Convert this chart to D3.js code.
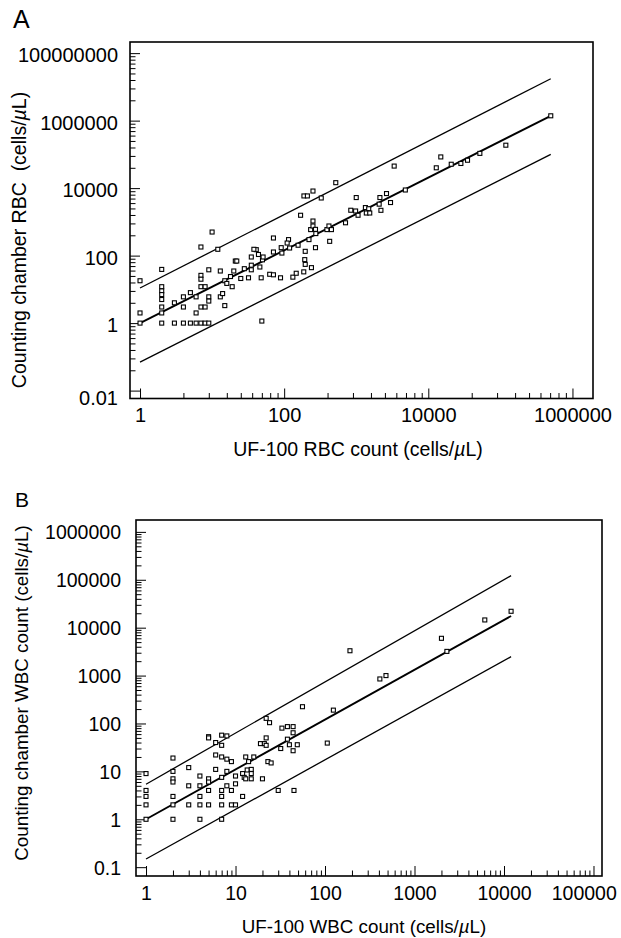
<!DOCTYPE html>
<html>
<head>
<meta charset="utf-8">
<script src="https://cdn.jsdelivr.net/npm/d3@7"></script>
<style>
  body { margin: 0; background: #fff; }
  svg text { font-family: "Liberation Sans", Arial, Helvetica, sans-serif; fill: #000; }
</style>
</head>
<body>
<svg id="chart" width="621" height="938"></svg>
<script>
// ---- Panel A: RBC (UF-100 vs counting chamber), cells/uL ----
const rbcUF = [
  1, 1, 1,
  2, 2, 2, 2, 2, 2, 2, 2,
  3, 3, 4, 4, 4, 5, 5,
  6, 6, 6, 7, 8, 9,
  7, 7, 7, 7, 8, 7, 8,
  9, 9, 9,
  10, 12, 13, 13, 14, 15, 16, 15,
  19, 18, 20, 21, 22, 25, 28, 32,
  41, 50, 49, 38,
  35, 44, 51, 35, 35, 46, 48, 63, 71, 71, 71, 91, 93, 89,
  115, 110, 119, 132, 147, 156, 187, 193, 196, 196, 169, 188, 210, 251, 221, 239,
  233, 251, 251, 272, 275, 272, 327, 392, 418, 453, 428, 520, 710,
  840, 980, 1000, 1060, 1340, 1490, 1380, 1540, 2080, 2130, 2200, 2630, 2990, 3360, 4800,
  12900, 14900, 20800, 28300, 35000, 51900, 119000, 500000
];
const rbcChamber = [
  18, 2, 1,
  39, 12, 9, 7, 5, 3, 2, 1,
  1, 4, 1, 3, 6, 1, 8,
  2, 6, 1, 1, 1, 1,
  180, 26, 20, 12, 12, 3, 3,
  6, 4.5, 38,
  500, 154, 35, 6, 7.5, 18, 15, 3.3,
  12, 24, 35, 69, 69, 21, 41, 22,
  150, 75, 1.15, 154,
  91, 108, 91, 52, 38, 46, 22, 28, 27, 333, 128, 172, 119, 22,
  298, 236, 168, 23, 30, 203, 33, 76, 55, 134, 1570, 5870, 5870, 8200, 298, 44,
  590, 1060, 755, 600, 450, 172, 5100, 590, 755, 590, 265, 14500, 940,
  2210, 2100, 5250, 1570, 2650, 2450, 1830, 1830, 3350, 5250, 2200, 6900, 3740, 45000, 8800,
  40000, 84000, 51000, 53700, 67000, 107000, 187000, 1390000
];
// fitted line and limits, read at both ends
const rbcLineX = [1, 500000];
const rbcFit = [1, 1390000];
const rbcUpper = [11, 17400000];
const rbcLower = [0.07, 100000];

// ---- Panel B: WBC ----
const wbcUF = [
  1, 1, 1, 1, 1,
  2, 2, 2, 2, 2, 2, 2,
  3, 3, 3,
  4, 4, 4, 4, 4,
  5, 5, 5, 5, 5, 5,
  6, 6, 6,
  7, 8, 7, 7, 8, 9, 7, 7, 7, 7, 7,
  8, 8, 9, 10, 9, 10, 10,
  12, 12, 12.5, 13, 13, 14, 13.5, 15, 15, 15, 16, 20,
  19, 21, 22, 22, 23, 25, 22, 24,
  30, 32, 33, 38, 44, 44, 38, 40, 44, 49, 45, 56,
  124, 106, 190, 410, 480, 2000, 2300, 6100, 12000
];
const wbcChamber = [
  9, 4, 3, 2, 1,
  19, 10, 7, 6, 3, 2, 1,
  12, 5, 2,
  8, 5, 3, 2, 1,
  7, 6, 4, 2, 53, 50,
  40, 22, 11,
  57, 55, 35, 20, 18, 16, 7.5, 4, 3, 2, 1,
  10, 5, 4, 8, 2, 2, 5.5,
  3, 9, 7.5, 7, 20, 16, 10.7, 9, 11, 7, 20, 7,
  38, 38, 50, 35, 16, 15, 128, 104,
  4, 30, 80, 86, 86, 64, 47, 36, 27, 36, 4, 224,
  190, 39, 3300, 850, 1000, 6000, 3200, 14500, 22000
];
const wbcLineX = [1, 12000];
const wbcFit = [1, 17500];
const wbcUpper = [5.4, 122000];
const wbcLower = [0.148, 2480];

const svg = d3.select('#chart');

const panels = [
  {
    letter: 'A', letterX: 13, letterY: 28, letterSize: 25,
    left: 130, right: 593, top: 42, bottom: 398.5,
    xExp: [-0.139, 6.285], yExp: [-2.234, 8.33],
    xMajor: [1, 1e2, 1e4, 1e6], yMajor: [1e-2, 1, 1e2, 1e4, 1e6, 1e8],
    squareMinor: true, tickSize: 20, titleSize: 19.5, yPad: 12, xPad: 9.3, yDy: '0.42em',
    xs: rbcUF, ys: rbcChamber, lineX: rbcLineX, fit: rbcFit, upper: rbcUpper, lower: rbcLower,
    xTitle: 'UF-100 RBC count (cells/', xTitleX: 358, xTitleY: 456,
    yTitle: 'Counting chamber RBC  (cells/', yTitleX: 26, yTitleY: 240
  },
  {
    letter: 'B', letterX: 15, letterY: 507, letterSize: 21,
    left: 136, right: 602, top: 520, bottom: 876,
    xExp: [-0.112, 5.095], yExp: [-1.184, 6.248],
    xMajor: [1, 10, 100, 1e3, 1e4, 1e5], yMajor: [0.1, 1, 10, 100, 1e3, 1e4, 1e5, 1e6],
    squareMinor: false, tickSize: 19.5, titleSize: 18.8, yPad: 15, xPad: 10, yDy: '0.35em',
    xs: wbcUF, ys: wbcChamber, lineX: wbcLineX, fit: wbcFit, upper: wbcUpper, lower: wbcLower,
    xTitle: 'UF-100 WBC count (cells/', xTitleX: 364, xTitleY: 933,
    yTitle: 'Counting chamber WBC count (cells/', yTitleX: 28, yTitleY: 693
  }
];

panels.forEach(drawPanel);

function minorTicks(majors, squared, domain) {
  // panel A puts its minor ticks as if each labelled step (x100) were one decade
  return majors.flatMap(m => d3.range(2, 10).map(k => m * (squared ? k * k : k)))
    .filter(v => v > domain[0] && v < domain[1]);
}

function drawPanel(p) {
  const xDomain = p.xExp.map(e => Math.pow(10, e));
  const yDomain = p.yExp.map(e => Math.pow(10, e));
  const x = d3.scaleLog().domain(xDomain).range([p.left, p.right]);
  const y = d3.scaleLog().domain(yDomain).range([p.bottom, p.top]);
  const g = svg.append('g');

  const fmt = d => String(d);

  // minor ticks
  g.append('g').attr('transform', `translate(0,${p.bottom})`)
    .call(d3.axisBottom(x).tickValues(minorTicks(p.xMajor, p.squareMinor, xDomain)).tickSize(-5.5).tickFormat(''))
    .call(a => a.select('.domain').remove());
  g.append('g').attr('transform', `translate(${p.left},0)`)
    .call(d3.axisLeft(y).tickValues(minorTicks(p.yMajor, p.squareMinor, yDomain)).tickSize(-5.5).tickFormat(''))
    .call(a => a.select('.domain').remove());

  // major ticks + labels
  const xa = g.append('g').attr('transform', `translate(0,${p.bottom})`)
    .call(d3.axisBottom(x).tickValues(p.xMajor).tickSizeInner(-10).tickSizeOuter(0).tickPadding(p.xPad).tickFormat(fmt));
  xa.select('.domain').remove();
  xa.selectAll('text').style('font-size', p.tickSize + 'px').attr('fill', '#000')
    .attr('dx', d => (d === 1e5 ? '-0.5em' : null));  // last label kept inside the page

  const ya = g.append('g').attr('transform', `translate(${p.left},0)`)
    .call(d3.axisLeft(y).tickValues(p.yMajor).tickSizeInner(-10).tickSizeOuter(0).tickPadding(p.yPad).tickFormat(fmt));
  ya.select('.domain').remove();
  ya.selectAll('text').style('font-size', p.tickSize + 'px').attr('fill', '#000')
    .attr('dy', d => (d === 0.01 ? '0.69em' : p.yDy));

  g.selectAll('.tick line').attr('stroke', '#000').attr('stroke-width', 1);

  // frame
  g.append('rect')
    .attr('x', p.left).attr('y', p.top)
    .attr('width', p.right - p.left).attr('height', p.bottom - p.top)
    .attr('fill', 'none').attr('stroke', '#000').attr('stroke-width', 1.6);

  // fitted line and limits
  const line = d3.line().x(d => x(d[0])).y(d => y(d[1]));
  [[p.upper, 1.3], [p.lower, 1.3], [p.fit, 1.9]].forEach(([vals, w]) => {
    g.append('path')
      .datum(p.lineX.map((xv, i) => [xv, vals[i]]))
      .attr('d', line)
      .attr('fill', 'none').attr('stroke', '#000').attr('stroke-width', w);
  });

  // points
  const pts = p.xs.map((xv, i) => [xv, p.ys[i]]);
  g.append('g').selectAll('rect').data(pts).join('rect')
    .attr('x', d => x(d[0]) - 2).attr('y', d => y(d[1]) - 2)
    .attr('width', 4).attr('height', 4)
    .attr('fill', '#fff').attr('stroke', '#000').attr('stroke-width', 1.1);

  // panel letter
  g.append('text').attr('x', p.letterX).attr('y', p.letterY)
    .style('font-size', p.letterSize + 'px').text(p.letter);

  // x title
  const xt = g.append('text').attr('x', p.xTitleX).attr('y', p.xTitleY)
    .attr('text-anchor', 'middle').style('font-size', p.titleSize + 'px').style('white-space', 'pre');
  xt.append('tspan').text(p.xTitle);
  xt.append('tspan').style('font-style', 'italic').text('\u00b5');
  xt.append('tspan').text('L)');

  // y title
  const yt = g.append('text')
    .attr('transform', `translate(${p.yTitleX},${p.yTitleY}) rotate(-90)`)
    .attr('text-anchor', 'middle').style('font-size', p.titleSize + 'px').style('white-space', 'pre');
  yt.append('tspan').text(p.yTitle);
  yt.append('tspan').style('font-style', 'italic').text('\u00b5');
  yt.append('tspan').text('L)');
}
</script>
</body>
</html>
